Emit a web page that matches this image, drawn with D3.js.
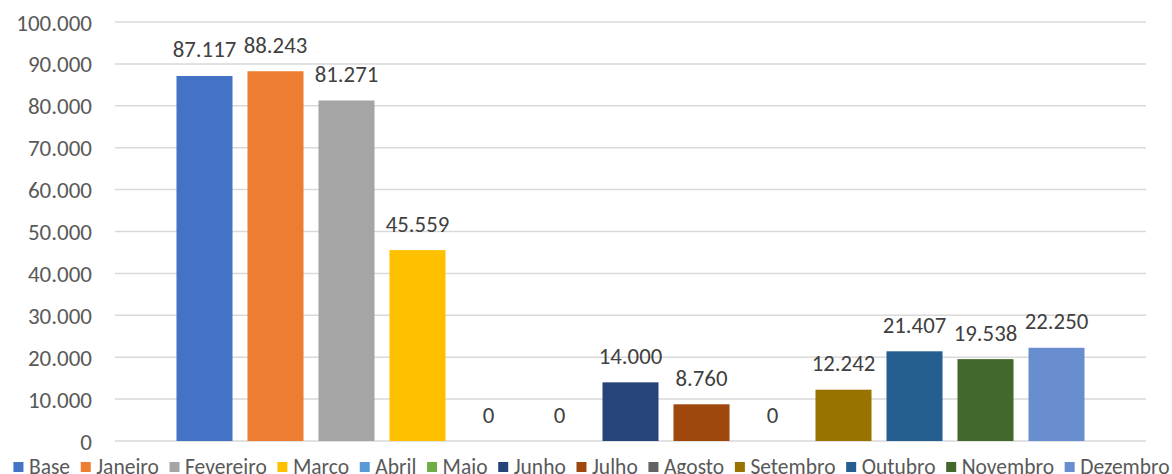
<!DOCTYPE html>
<html>
<head>
<meta charset="utf-8">
<script src="https://cdn.jsdelivr.net/npm/d3@7"></script>
<style>
  html, body { margin: 0; padding: 0; background: #fff; }
  svg { display: block; }
  text { font-family: Calibri, Carlito, "Liberation Sans", Arial, sans-serif; }
</style>
</head>
<body>
<svg id="chart" width="1172" height="474"></svg>
<script>
const categories = ["Base", "Janeiro", "Fevereiro", "Marco", "Abril", "Maio", "Junho", "Julho", "Agosto", "Setembro", "Outubro", "Novembro", "Dezembro"];
const values = [87117, 88243, 81271, 45559, 0, 0, 14000, 8760, 0, 12242, 21407, 19538, 22250];
const colors = ["#4472C4", "#ED7D31", "#A5A5A5", "#FFC000", "#5B9BD5", "#70AD47", "#264478", "#9E480E", "#636363", "#997300", "#255E91", "#43682B", "#698ED0"];
const yTicks = [0, 10000, 20000, 30000, 40000, 50000, 60000, 70000, 80000, 90000, 100000];

const svg = d3.select("#chart");
const plot = { left: 115, right: 1146, top: 22, bottom: 441 };

const locale = d3.formatLocale({ decimal: ",", thousands: ".", grouping: [3], currency: ["", ""] });
const fmt = locale.format(",d");

const y = d3.scaleLinear().domain([0, 100000]).range([plot.bottom, plot.top]);
const x = d3.scaleBand().domain(categories).range([plot.left, plot.right])
  .paddingInner(0.211).paddingOuter(0.866).align(0.5);

// gridlines
svg.append("g").selectAll("line").data(yTicks).join("line")
  .attr("x1", plot.left).attr("x2", plot.right)
  .attr("y1", d => y(d)).attr("y2", d => y(d))
  .attr("stroke", "#d9d9d9").attr("stroke-width", 1.5);

// y axis labels
const yAxis = d3.axisLeft(y).tickValues(yTicks).tickFormat(fmt).tickSize(0).tickPadding(0);
const gy = svg.append("g").attr("transform", "translate(92,0)").call(yAxis);
gy.select(".domain").remove();
gy.selectAll("text")
  .attr("font-family", 'Calibri, Carlito, "Liberation Sans", Arial, sans-serif')
  .attr("font-size", 23).attr("fill", "#595959")
  .attr("dy", "0.35em").attr("x", 0);

// bars
const data = categories.map((c, i) => ({ c, v: values[i], col: colors[i] }));
svg.append("g").selectAll("rect").data(data).join("rect")
  .attr("x", d => x(d.c)).attr("width", x.bandwidth())
  .attr("y", d => y(d.v)).attr("height", d => y(0) - y(d.v))
  .attr("fill", d => d.col);

// data labels
svg.append("g").selectAll("text").data(data).join("text")
  .attr("x", d => x(d.c) + x.bandwidth() / 2)
  .attr("y", d => y(d.v) - 18.5)
  .attr("text-anchor", "middle")
  .attr("font-size", 22.8).attr("fill", "#404040")
  .text(d => fmt(d.v));

// legend
const lg = svg.append("g");
const items = lg.selectAll("g").data(data).join("g");
items.append("rect").attr("width", 10).attr("height", 10).attr("y", 462).attr("fill", d => d.col);
items.append("text").attr("x", 15.5).attr("y", 474).attr("font-size", 21.5).attr("fill", "#595959").text(d => d.c);
let cx = 0;
items.each(function() {
  const g = d3.select(this);
  g.attr("transform", `translate(${cx},0)`);
  const tw = g.select("text").node().getComputedTextLength();
  cx += 15.5 + tw + 10.7;
});
const total = cx - 10.7;
const startX = 591.5 - total / 2;
lg.attr("transform", `translate(${startX},0)`);
</script>
</body>
</html>
